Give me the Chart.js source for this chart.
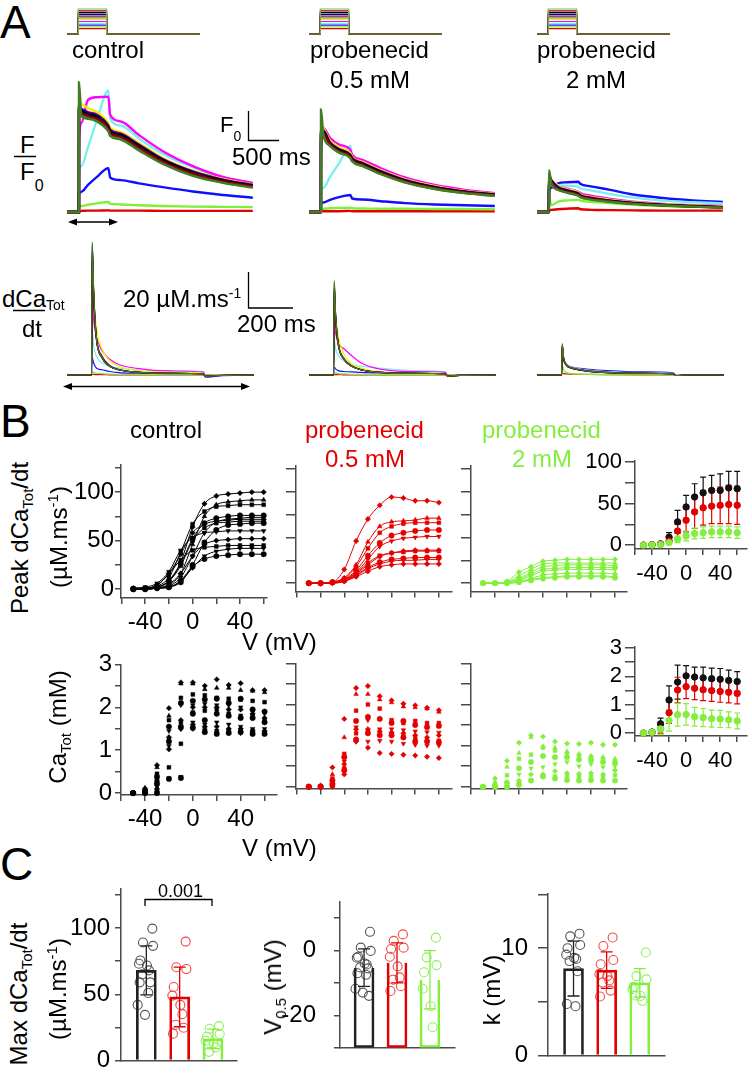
<!DOCTYPE html>
<html>
<head>
<meta charset="utf-8">
<script src="https://cdn.jsdelivr.net/npm/chart.js@4.4.1/dist/chart.umd.min.js"></script>
<style>
  body { margin: 0; background: #fff; }
  #fig { position: relative; width: 752px; height: 1080px; overflow: hidden; font-family: Arial, "Liberation Sans", sans-serif; color: #000; }
  #fig canvas { position: absolute; }
  .t { position: absolute; line-height: 1; white-space: nowrap; }
  .rot { position: absolute; line-height: 1; white-space: nowrap; transform: translate(-50%, -50%) rotate(-90deg); }
  .s { position: relative; }
</style>
</head>
<body>
<div id="fig"></div>
<script>
// ---------- data ----------
// A: voltage steps (mV), one per trace colour, top to bottom
const stepV = [60, 50, 40, 30, 20, 10, 0, -10, -20, -30, -40, -50];
const holdV = -80;

// A: F/F0 traces, sampled at tF (ms)
const tF = [-200, -1, 0, 40, 150, 300, 490, 520, 700, 1000, 1400, 1900, 2400, 2900];
const fCtrl = [
  [1,1,5.8,4.55,4.45,4.35,3.98,3.82,3.68,3.28,2.78,2.34,2.08,1.9],
  [1,1,4.7,4.65,4.55,4.45,4.08,3.92,3.78,3.38,2.86,2.42,2.13,1.95],
  [1,1,4.8,4.72,4.6,4.5,4.12,3.96,3.82,3.42,2.9,2.45,2.16,1.97],
  [1,1,4.85,4.78,4.66,4.55,4.16,4.0,3.86,3.46,2.93,2.48,2.18,1.99],
  [1,1,4.9,4.82,4.7,4.6,4.2,4.05,3.9,3.5,2.96,2.5,2.2,2.0],
  [1,1,4.75,4.6,4.5,4.4,4.02,3.88,3.73,3.33,2.82,2.38,2.1,1.92],
  [1,1,5.1,5.0,4.85,4.7,4.28,4.12,3.96,3.55,3.0,2.53,2.22,2.02],
  [1,1,3.6,4.3,5.15,5.25,5.27,4.6,4.35,3.85,3.25,2.7,2.3,2.07],
  [1,1,2.44,2.7,3.4,4.4,5.5,4.45,4.2,3.72,3.15,2.65,2.27,2.08],
  [1,1,1.63,1.75,2.0,2.3,2.62,2.28,2.18,2.06,1.92,1.76,1.63,1.53],
  [1,1,1.2,1.22,1.27,1.32,1.37,1.3,1.28,1.25,1.22,1.2,1.19,1.18],
  [1,1,1.03,1.04,1.05,1.05,1.06,1.05,1.05,1.05,1.04,1.04,1.04,1.04]
];
const fProb05 = [
  [1,1,4.8,3.85,3.45,3.2,3.0,2.88,2.7,2.4,2.1,1.85,1.7,1.6],
  [1,1,3.9,3.9,3.5,3.25,3.05,2.92,2.74,2.44,2.13,1.88,1.72,1.62],
  [1,1,3.95,3.95,3.52,3.28,3.08,2.95,2.77,2.47,2.15,1.9,1.74,1.63],
  [1,1,4.0,4.0,3.55,3.3,3.1,2.97,2.79,2.49,2.17,1.92,1.75,1.64],
  [1,1,4.05,4.02,3.58,3.33,3.12,3.0,2.81,2.51,2.19,1.93,1.76,1.65],
  [1,1,3.85,3.85,3.45,3.2,3.0,2.88,2.7,2.41,2.1,1.86,1.7,1.6],
  [1,1,4.2,4.1,3.65,3.4,3.18,3.04,2.85,2.55,2.22,1.96,1.78,1.67],
  [1,1,3.0,4.1,3.75,3.5,3.3,3.12,2.92,2.62,2.28,2.0,1.82,1.7],
  [1,1,1.78,1.9,2.3,2.8,3.45,3.0,2.85,2.55,2.22,1.96,1.78,1.67],
  [1,1,1.3,1.35,1.45,1.55,1.63,1.5,1.46,1.4,1.33,1.28,1.25,1.22],
  [1,1,1.1,1.12,1.14,1.15,1.16,1.14,1.13,1.12,1.12,1.11,1.11,1.1],
  [1,1,1.02,1.03,1.03,1.03,1.04,1.03,1.03,1.03,1.03,1.03,1.03,1.03]
];
const fProb2 = [
  [1,1,2.55,2.05,1.82,1.72,1.6,1.55,1.46,1.38,1.3,1.24,1.2,1.16],
  [1,1,2.2,2.1,1.86,1.75,1.63,1.58,1.49,1.4,1.31,1.25,1.21,1.17],
  [1,1,2.25,2.12,1.88,1.77,1.65,1.6,1.5,1.41,1.32,1.26,1.21,1.17],
  [1,1,2.3,2.15,1.9,1.79,1.67,1.61,1.51,1.42,1.33,1.26,1.22,1.18],
  [1,1,2.35,2.18,1.93,1.81,1.69,1.63,1.53,1.43,1.34,1.27,1.22,1.18],
  [1,1,2.15,2.05,1.83,1.72,1.61,1.56,1.47,1.39,1.3,1.24,1.2,1.16],
  [1,1,2.4,2.2,1.96,1.84,1.72,1.66,1.56,1.46,1.36,1.29,1.24,1.2],
  [1,1,2.2,2.1,1.95,1.86,1.75,1.7,1.6,1.49,1.38,1.3,1.25,1.22],
  [1,1,2.2,2.1,2.0,1.97,1.93,1.88,1.8,1.67,1.53,1.42,1.36,1.32],
  [1,1,1.78,1.9,2.06,2.1,2.12,2.05,1.95,1.83,1.65,1.52,1.43,1.37],
  [1,1,1.5,1.25,1.38,1.43,1.45,1.42,1.38,1.33,1.27,1.22,1.2,1.18],
  [1,1,1.05,1.08,1.1,1.12,1.14,1.1,1.08,1.07,1.06,1.05,1.05,1.05]
];

// A: dCaTot/dt traces (uM/ms), sampled at tD (ms)
const tD = [-110, -1, 2, 8, 20, 45, 80, 120, 200, 350, 495, 505, 560, 720];
const dCtrl = [
  [0,0,76,50,22,10,5,3,1.5,1,0.7,-0.8,-0.3,0],
  [0,0,72,47,21,10,5,3,1.5,1,0.7,-0.8,-0.3,0],
  [0,0,74,48,22,10,5,3,1.5,1,0.7,-0.8,-0.3,0],
  [0,0,70,46,21,10,5,3,1.6,1,0.7,-0.8,-0.3,0],
  [0,0,73,48,22,11,5.5,3.2,1.6,1,0.7,-0.8,-0.3,0],
  [0,0,75,49,22,10,5,3,1.5,1,0.7,-0.8,-0.3,0],
  [0,0,66,46,28,15,8,5,2.5,1.5,1,-0.8,-0.3,0],
  [0,0,45,32,22,14,9,6,3.8,2.3,1.6,-0.6,-0.2,0],
  [0,0,25,17,11,7,5,4,3,2.3,2,-0.6,-0.2,0],
  [0,0,10,7,4,3,2,1.3,1,0.8,0.7,-1.2,-0.6,0],
  [0,0,2,1.5,1,0.8,0.5,0.4,0.3,0.2,0.2,-0.2,0,0],
  [0,0,0.4,0.3,0.2,0.2,0.1,0.1,0.1,0.1,0.1,0,0,0]
];
const dProb05 = [
  [0,0,54,35,18,9,5,3,1.5,1,0.7,-0.6,-0.2,0],
  [0,0,50,33,17,9,5,3,1.5,1,0.7,-0.6,-0.2,0],
  [0,0,52,34,18,9,5,3,1.5,1,0.7,-0.6,-0.2,0],
  [0,0,48,32,17,9,5,3,1.5,1,0.7,-0.6,-0.2,0],
  [0,0,51,34,18,9.5,5.2,3.1,1.6,1,0.7,-0.6,-0.2,0],
  [0,0,53,35,18,9,5,3,1.5,1,0.7,-0.6,-0.2,0],
  [0,0,45,33,22,12,6,4,2,1.2,0.8,-0.6,-0.2,0],
  [0,0,30,24,18,15,11,7,3.5,2,1.5,-0.5,-0.2,0],
  [0,0,20,15,11,8,6,5,4,2.5,1.8,-0.8,-0.3,0],
  [0,0,4.5,3.5,2.5,2,1.8,1.5,1.2,1,0.8,-0.5,-0.2,0],
  [0,0,1.5,1.2,0.8,0.6,0.4,0.3,0.2,0.2,0.2,-0.1,0,0],
  [0,0,0.3,0.2,0.2,0.1,0.1,0.1,0.1,0.1,0.1,0,0,0]
];
const dProb2 = [
  [0,0,18,10,6,4,3,2.2,1.5,1,0.7,-0.3,0,0],
  [0,0,17,9.5,5.8,3.9,2.9,2.1,1.4,1,0.7,-0.3,0,0],
  [0,0,17,9.5,5.8,3.9,2.9,2.1,1.4,1,0.7,-0.3,0,0],
  [0,0,16,9,5.5,3.8,2.8,2,1.4,1,0.7,-0.3,0,0],
  [0,0,17,10,6,4,3,2.2,1.5,1,0.7,-0.3,0,0],
  [0,0,17.5,10,6,4,3,2.2,1.5,1,0.7,-0.3,0,0],
  [0,0,15,9,6,4,3,2.2,1.5,1,0.7,-0.3,0,0],
  [0,0,14,9,6,4.2,3.2,2.5,1.7,1.1,0.8,-0.3,0,0],
  [0,0,13,8.5,6,4.5,3.5,2.8,2,1.4,1,-0.3,0,0],
  [0,0,14,9,6,4.5,3.8,3.2,2.5,1.8,1.2,-0.3,0,0],
  [0,0,6,3,1.5,0.8,0.5,0.3,0.2,0.1,0.1,0,0,0],
  [0,0,1,0.8,0.6,0.5,0.4,0.3,0.2,0.1,0.1,0,0,0]
];

// B: test voltages (mV)
const V = [-50, -40, -30, -20, -10, 0, 10, 20, 30, 40, 50, 60];

// B: peak dCaTot/dt per fibre (uM/ms)
const peakCtrl = [
  [0,1,2,9,28,64,88,96,98,99,100,100],
  [0,0,1,4,16,46,75,87,90,91,92,92],
  [0,1,3,12,38,67,80,85,86,87,87,87],
  [0,0,2,8,26,52,68,73,75,76,76,76],
  [0,0,1,3,12,34,58,69,72,73,74,74],
  [1,1,4,16,36,58,67,70,71,72,72,72],
  [0,1,2,8,24,50,63,68,69,70,70,70],
  [0,0,1,2,9,25,48,61,66,67,68,68],
  [1,2,6,18,40,53,58,59,60,60,60,60],
  [0,0,1,5,16,34,46,50,51,52,52,52],
  [0,1,4,16,30,40,43,44,45,45,45,45],
  [0,0,1,2,8,22,34,39,41,42,42,42],
  [0,0,1,2,7,23,31,34,35,36,36,36]
];
const peakP05 = [
  [0,0,1,15,46,70,85,94,93,90,90,88],
  [0,0,1,6,20,45,62,67,68,69,71,71],
  [0,0,1,5,18,38,55,62,65,66,66,66],
  [0,0,1,4,14,30,44,52,55,57,58,58],
  [0,0,1,4,12,26,40,46,49,50,51,51],
  [0,0,1,3,10,20,29,33,35,36,36,36],
  [0,0,1,3,11,22,30,33,34,35,35,35],
  [0,0,1,3,9,17,23,26,27,28,28,28],
  [0,0,0,2,8,16,21,24,25,25,26,26],
  [0,0,0,2,7,13,18,20,21,21,21,21]
];
const peakP2 = [
  [0,0,2,12,18,24,25,26,26,26,26,26],
  [0,0,1,8,15,21,22,22,22,22,22,22],
  [0,0,1,5,12,18,19,20,20,20,20,19],
  [0,0,1,4,10,15,16,17,17,17,17,17],
  [0,0,0,3,8,13,14,15,15,15,15,15],
  [0,0,0,2,5,9,10,11,11,11,11,10],
  [0,0,0,1,4,6,7,8,8,8,8,7],
  [0,0,0,1,3,5,6,7,7,7,7,6]
];

// B: CaTot per fibre (mM)
const caCtrl = [
  [0,0.1,0.65,1.98,2.58,2.58,2.5,2.65,2.52,2.56,2.4,2.4],
  [0,0.12,0.6,1.8,2.55,2.55,2.42,2.45,2.45,2.4,2.38,2.35],
  [0,0.08,0.45,1.7,2.22,2.3,2.28,2.22,2.2,2.18,2.15,2.12],
  [0,0.05,0.38,1.55,2.1,2.15,2.18,2.2,2.1,2.2,1.95,1.9],
  [0,0.03,0.3,1.45,2.05,2.05,2.08,2.05,2.05,2.0,1.9,1.85],
  [0,0.05,0.28,1.3,1.7,2.0,2.0,2.0,1.95,1.95,1.85,1.75],
  [0,0.02,0.25,1.25,1.65,1.88,1.92,1.95,1.85,1.8,1.8,1.7],
  [0,0.02,0.22,1.2,1.55,1.85,1.7,1.85,1.8,1.75,1.75,1.65],
  [0,0,0.15,1.1,1.5,1.65,1.6,1.65,1.6,1.55,1.5,1.5],
  [0,0,0.1,1.02,1.5,1.6,1.55,1.55,1.5,1.5,1.45,1.45],
  [0,0,0.05,0.6,1.15,1.55,1.5,1.45,1.45,1.45,1.45,1.42],
  [0,0,0.02,0.35,0.38,1.5,1.45,1.4,1.42,1.4,1.4,1.4],
  [0,0,0,0.33,0.35,1.52,1.42,1.38,1.4,1.42,1.38,1.38]
];
const caP05 = [
  [0,0.03,0.47,1.65,2.4,2.45,2.2,2.1,2.02,1.98,1.92,1.86],
  [0,0.02,0.3,1.2,2.25,2.25,2.12,2.05,1.95,1.93,1.9,1.82],
  [0,0,0.2,0.8,1.85,2.0,1.9,1.62,1.55,1.6,1.55,1.55],
  [0,0,0.15,0.72,1.6,1.7,1.65,1.55,1.6,1.5,1.45,1.48],
  [0,0,0.1,0.62,1.45,1.62,1.4,1.4,1.38,1.35,1.33,1.32],
  [0,0,0.08,0.55,1.4,1.4,1.35,1.32,1.3,1.25,1.2,1.25],
  [0,0,0.05,0.45,1.3,1.35,1.3,1.28,1.22,1.18,1.12,1.12],
  [0,0,0.05,0.4,1.15,1.3,1.25,1.25,1.2,1.1,1.1,1.08],
  [0,0,0.02,0.35,1.1,1.1,1.12,1.1,1.05,1.02,1.0,1.0],
  [0,0,0,0.3,1.1,0.95,0.82,0.8,0.78,0.76,0.73,0.7]
];
const caP2 = [
  [0,0.2,0.63,1.07,1.25,1.22,1.1,1.05,1.04,1.07,1.02,1.02],
  [0,0.12,0.48,0.82,1.2,0.98,0.95,0.86,0.8,0.75,0.72,0.68],
  [0,0.05,0.28,0.68,0.78,0.95,0.88,0.8,0.76,0.72,0.68,0.62],
  [0,0.02,0.1,0.45,0.6,0.75,0.72,0.72,0.66,0.65,0.6,0.58],
  [0,0,0.05,0.3,0.45,0.48,0.55,0.6,0.5,0.55,0.48,0.5],
  [0,0,0.02,0.15,0.3,0.3,0.38,0.33,0.31,0.33,0.3,0.4],
  [0,0,0,0.12,0.16,0.27,0.25,0.25,0.24,0.24,0.24,0.28],
  [0,0,0,0.05,0.15,0.25,0.2,0.16,0.15,0.16,0.15,0.15]
];

// B insets: mean and SD
const meanPeakCtrl = [0, 0.5, 1.5, 9.5, 28, 46, 58, 63, 66, 66, 69, 68];
const sdPeakCtrl   = [0.3, 0.5, 1.5, 5.5, 14, 14, 16, 19, 18, 20, 20, 21];
const meanPeakP05  = [0, 0.3, 1, 5, 17, 30, 40, 45, 47, 48, 49, 48];
const sdPeakP05    = [0.3, 0.4, 1, 4, 8, 14, 20, 21, 21, 22, 23, 23];
const meanPeakP2   = [0, 0.2, 0.6, 3, 7, 11, 14, 15, 16, 16, 16, 15];
const sdPeakP2     = [0.2, 0.3, 0.6, 2, 4, 6, 6.5, 7, 7, 7, 7, 7];
const meanCaCtrl = [0, 0.04, 0.33, 1.17, 1.8, 2.02, 1.98, 1.95, 1.92, 1.9, 1.86, 1.82];
const sdCaCtrl   = [0.02, 0.05, 0.2, 0.5, 0.6, 0.36, 0.35, 0.38, 0.37, 0.38, 0.36, 0.35];
const meanCaP05  = [0, 0.02, 0.15, 0.72, 1.52, 1.64, 1.58, 1.53, 1.5, 1.47, 1.44, 1.4];
const sdCaP05    = [0.02, 0.03, 0.15, 0.38, 0.45, 0.42, 0.4, 0.38, 0.38, 0.38, 0.37, 0.37];
const meanCaP2   = [0, 0.03, 0.15, 0.45, 0.65, 0.66, 0.58, 0.55, 0.51, 0.5, 0.47, 0.43];
const sdCaP2     = [0.02, 0.06, 0.2, 0.38, 0.4, 0.38, 0.33, 0.32, 0.3, 0.3, 0.28, 0.28];

// C: Boltzmann parameters per fibre, bars = mean, err = SD
const groups = ['control', 'probenecid 0.5 mM', 'probenecid 2 mM'];
const maxCtrl = [99.5, 89, 86.5, 75.5, 73, 71.7, 68, 65, 59, 59, 51, 42, 34.5];
const maxP05  = [89.7, 70.4, 69, 55.5, 49, 42, 35, 27, 24.8, 20.3];
const maxP2   = [26, 24, 20, 18, 15, 13, 10, 6.6];
const maxMean = [68, 48, 16.4];
const maxSd   = [18.5, 22.5, 7.3];
const vhCtrl = [5.8, 0.9, -0.1, -1.9, -2.2, -4, -4.3, -5.2, -5.5, -7, -7.5, -11.8, -13, -14];
const vhP05  = [5.0, 3.0, 0.9, 0.5, -1.9, -4.9, -8.3, -9, -11, -12.5];
const vhP2   = [4.0, -2.1, -4.5, -6.7, -11.8, -17.2, -23.7];
const vhMean = [-5.3, -3.8, -9];
const vhSd   = [5.8, 6.2, 9];
const kCtrl = [11.35, 11.1, 10.3, 10.0, 9.4, 9.1, 9.0, 8.8, 7.85, 4.8, 4.6];
const kP05  = [11.0, 10.2, 8.9, 8.5, 7.6, 7.4, 7.0, 6.8, 6.05, 5.5];
const kP2   = [9.6, 7.4, 7.1, 6.4, 6.2, 5.55, 5.1, 5.6];
const kMean = [8.1, 7.96, 6.77];
const kSd   = [2.55, 1.7, 1.33];

// ---------- drawing ----------
const FONT = 'Arial, "Liberation Sans", sans-serif';
const AX = '#4a4a4a';
const RED = '#e30000', GRN = '#84ee3e';
const traceColors = ['#3f7d28', '#8b0000', '#000000', '#00007a', '#800080', '#6b8e23',
                     '#f0f000', '#ff00ff', '#78f0f0', '#1010ff', '#7ff03a', '#e30000'];
const protoColors = ['#80b850'].concat(traceColors.slice(1));
Chart.defaults.font.family = FONT;
Chart.defaults.color = '#000';

const fig = document.getElementById('fig');

function mk(area, pad, cfg, axes) {
  const c = document.createElement('canvas');
  const w = area.r - area.l + pad.l + pad.r;
  const h = area.b - area.t + pad.t + pad.b;
  c.width = w; c.height = h;
  c.style.left = (area.l - pad.l) + 'px';
  c.style.top = (area.t - pad.t) + 'px';
  c.style.width = w + 'px';
  c.style.height = h + 'px';
  fig.appendChild(c);
  const o = cfg.options || (cfg.options = {});
  o.responsive = false;
  o.animation = false;
  o.events = [];
  o.layout = { padding: axes ? { left: 0, top: pad.t, right: pad.r, bottom: 0 }
                             : { left: pad.l, top: pad.t, right: pad.r, bottom: pad.b } };
  o.plugins = Object.assign({ legend: { display: false }, tooltip: { enabled: false } }, o.plugins);
  return new Chart(c, cfg);
}

const hid = (min, max) => ({ type: 'linear', display: false, min, max });

function yAx(min, max, ticks, labels, w, o = {}) {
  return {
    type: 'linear', min, max,
    afterBuildTicks: a => { a.ticks = ticks.map(v => ({ value: v })); },
    afterFit: s => { s.width = w; },
    border: { display: true, color: AX, width: 1.5 },
    grid: { drawOnChartArea: false, tickLength: o.tl || 6, color: AX, lineWidth: 1.5 },
    ticks: { autoSkip: false, padding: o.pad ?? 2, color: '#000', font: { size: o.fs || 24 },
             callback: v => labels.includes(v) ? String(v) : '' }
  };
}
function xAx(min, max, ticks, labels, h, o = {}) {
  return {
    type: 'linear', min, max, offset: false,
    afterBuildTicks: a => { a.ticks = ticks.map(v => ({ value: v })); },
    afterFit: s => { s.height = h; },
    border: { display: true, color: AX, width: 1.5 },
    grid: { display: o.noTicks ? false : true, drawOnChartArea: false, tickLength: o.tl || 6, color: AX, lineWidth: 1.5 },
    ticks: { display: labels.length > 0, autoSkip: false, maxRotation: 0, padding: o.pad ?? 3, color: '#000',
             font: { size: o.fs || 24 }, callback: v => labels.includes(v) ? String(v) : '' }
  };
}

function drawErr(ch) {
  const ctx = ch.ctx, xs = ch.scales.x, ys = ch.scales.y;
  for (let i = ch.data.datasets.length - 1; i >= 0; i--) {
    const ds = ch.data.datasets[i];
    if (!ds.sd) continue;
    ctx.save();
    ctx.strokeStyle = ds.errColor;
    ctx.lineWidth = ds.errWidth || 1.2;
    ds.data.forEach((p, j) => {
      const m = p.y, s = ds.sd[j], c = ds.cap || 3;
      const px = xs.getPixelForValue(p.x);
      const yt = ys.getPixelForValue(m + s), yb = ys.getPixelForValue(m - s);
      ctx.beginPath();
      ctx.moveTo(px, yt); ctx.lineTo(px, yb);
      ctx.moveTo(px - c, yt); ctx.lineTo(px + c, yt);
      ctx.moveTo(px - c, yb); ctx.lineTo(px + c, yb);
      ctx.stroke();
    });
    ctx.restore();
  }
}
const errBehind = { id: 'errBehind', beforeDatasetsDraw: drawErr };

// ----- A: protocols -----
[67, 309, 537].forEach(l => {
  mk({ l, t: 6, r: l + 133, b: 37 }, { l: 0, t: 0, r: 0, b: 0 }, {
    type: 'line',
    data: { datasets: stepV.map((v, i) => ({
      data: [[-200, holdV], [0, holdV], [0, v], [500, v], [500, holdV], [2150, holdV]].map(p => ({ x: p[0], y: p[1] })),
      borderColor: protoColors[i], borderWidth: 1.2, pointRadius: 0, clip: false
    })) },
    options: { scales: { x: hid(-200, 2150), y: hid(-96.8, 76.8) } }
  });
});

// ----- A: F/F0 and dCa/dt traces -----
function traces(l, t, b, times, sets, xr, yr, bw) {
  mk({ l, t, r: l + 187, b }, { l: 0, t: 0, r: 0, b: 0 }, {
    type: 'line',
    data: { datasets: sets.map((vals, i) => ({
      data: times.map((x, j) => ({ x, y: vals[j] })),
      borderColor: traceColors[i], borderWidth: bw, pointRadius: 0,
      cubicInterpolationMode: 'monotone', clip: false
    })) },
    options: { scales: { x: hid(xr[0], xr[1]), y: hid(yr[0], yr[1]) } }
  });
}
[[67, fCtrl], [309, fProb05], [537, fProb2]].forEach(([l, s]) => traces(l, 78, 216, tF, s, [-200, 2920], [0.852, 5.96], 2.4));
[[67, dCtrl], [309, dProb05], [537, dProb2]].forEach(([l, s]) => traces(l, 238, 380, tD, s, [-110, 720], [-2.86, 78.3], 1.2));

// ----- B: per-fibre I-V plots -----
const shapes = ['rectRot', 'triangle', 'rect', 'circle', 'triangle', 'rectRot', 'rect', 'circle', 'triangle', 'rectRot', 'rect', 'triangle', 'circle'];
const rots =   [0, 0, 0, 0, 180, 0, 0, 0, 180, 0, 0, 180, 0];
const vTicks = [-60, -40, -20, 0, 20, 40, 60];

function ivChart(area, cells, color, withLine, yCfg, xMin, xMax, pad, labelled) {
  mk(area, pad, {
    type: 'line',
    data: { datasets: cells.map((vals, i) => ({
      data: V.map((x, j) => ({ x, y: vals[j] })),
      showLine: withLine, borderColor: color, borderWidth: 1, cubicInterpolationMode: 'monotone',
      pointStyle: shapes[i % shapes.length], rotation: rots[i % rots.length],
      pointRadius: 2.7, pointBackgroundColor: color, pointBorderColor: color, pointBorderWidth: 0.5, clip: false
    })) },
    options: { scales: {
      x: xAx(xMin, xMax, vTicks, labelled ? [-40, 0, 40] : [], pad.b, { pad: 4 }),
      y: yCfg
    } }
  }, true);
}
const peakTicks = [0, 25, 50, 75, 100, 125];
const caTicks = [0, 0.5, 1, 1.5, 2, 2.5, 3];
ivChart({ l: 121, t: 463, r: 267, b: 598 }, peakCtrl, '#000', true,
  yAx(-9.2, 128.6, peakTicks, [0, 50, 100], 60, { tl: 6, pad: 1 }), -60.4, 62.8, { l: 60, t: 14, r: 6, b: 40 }, true);
ivChart({ l: 296, t: 463, r: 452, b: 598 }, peakP05, RED, true,
  yAx(-9.2, 128.6, peakTicks, [], 12, { tl: 10 }), -60.8, 71.1, { l: 12, t: 14, r: 6, b: 10 }, false);
ivChart({ l: 471, t: 463, r: 627, b: 598 }, peakP2, GRN, true,
  yAx(-9.2, 128.6, peakTicks, [], 12, { tl: 10 }), -60, 70, { l: 12, t: 14, r: 6, b: 10 }, false);
ivChart({ l: 121, t: 661, r: 277, b: 795 }, caCtrl, '#000', false,
  yAx(-0.045, 3, caTicks, [0, 1, 2, 3], 60, { tl: 6, pad: 3 }), -60.1, 70.4, { l: 60, t: 14, r: 6, b: 40 }, true);
ivChart({ l: 296, t: 661, r: 452, b: 795 }, caP05, RED, false,
  yAx(-0.045, 3, caTicks, [], 12, { tl: 10 }), -60.8, 71.1, { l: 12, t: 14, r: 6, b: 10 }, false);
ivChart({ l: 471, t: 661, r: 627, b: 795 }, caP2, GRN, false,
  yAx(-0.045, 3, caTicks, [], 12, { tl: 10 }), -60, 70, { l: 12, t: 14, r: 6, b: 10 }, false);

// ----- B: mean +/- SD insets -----
function inset(area, means, sds, yCfg) {
  const cols = [GRN, RED, '#111'];
  mk(area, { l: 56, t: 14, r: 0, b: 40 }, {
    type: 'scatter',
    data: { datasets: [2, 1, 0].map((g, k) => ({
      data: V.map((x, j) => ({ x, y: means[g][j] })),
      sd: sds[g], errColor: cols[k], cap: 3, errWidth: 1.2,
      pointRadius: 3.2, pointBackgroundColor: cols[k], pointBorderColor: cols[k], clip: false
    })) },
    options: { scales: {
      x: xAx(-60, 71.5, vTicks, [-40, 0, 40], 40, { fs: 22, tl: 6, pad: 6 }),
      y: yCfg
    } },
    plugins: [errBehind]
  }, true);
}
inset({ l: 635, t: 459, r: 752, b: 549 }, [meanPeakCtrl, meanPeakP05, meanPeakP2], [sdPeakCtrl, sdPeakP05, sdPeakP2],
  yAx(-4.7, 101.2, [0, 25, 50, 75, 100], [0, 50, 100], 56, { fs: 22, tl: 10, pad: 3 }));
inset({ l: 635, t: 645, r: 752, b: 736 }, [meanCaCtrl, meanCaP05, meanCaP2], [sdCaCtrl, sdCaP05, sdCaP2],
  yAx(-0.1, 3.03, caTicks, [0, 1, 2, 3], 56, { fs: 22, tl: 10, pad: 3 }));

// ----- C: bar charts with individual fibres -----
const jit = [0.18, -0.1, 0.2, -0.18, -0.22, 0.02, 0.08, -0.12, 0.12, -0.2, 0.06, -0.26, -0.04, 0.15];
function barChart(area, pts, means, sds, floor, yCfg, xr, yW) {
  const edge = ['#222', RED, GRN], dot = ['#555', '#f04a4a', '#8ef05c'];
  const bars = {
    type: 'bar',
    data: means.map((m, g) => ({ x: g + 1, y: floor === null ? m : [floor, m] })),
    backgroundColor: 'rgba(0,0,0,0)', borderColor: edge, borderWidth: 2, borderSkipped: 'start',
    barThickness: 20
  };
  const dots = pts.map((vals, g) => ({
    type: 'scatter',
    data: vals.map((y, i) => ({ x: g + 1 + jit[i % jit.length], y })),
    pointRadius: 4.5, pointBackgroundColor: 'rgba(0,0,0,0)', pointBorderColor: dot[g], pointBorderWidth: 1.1, clip: false
  }));
  mk(area, { l: yW, t: 14, r: 6, b: 7 }, {
    type: 'bar',
    data: { datasets: [bars].concat(dots) },
    options: { scales: {
      x: xAx(xr[0], xr[1], [1, 2, 3], [], 7, { noTicks: true }),
      y: yCfg
    } },
    plugins: [{ id: 'barErr', afterDatasetsDraw(ch) {
      // error bars coloured like their bar
      const ctx = ch.ctx, xs = ch.scales.x, ys = ch.scales.y;
      means.forEach((m, g) => {
        const px = xs.getPixelForValue(g + 1), yt = ys.getPixelForValue(m + sds[g]), yb = ys.getPixelForValue(m - sds[g]);
        ctx.save(); ctx.strokeStyle = edge[g]; ctx.lineWidth = 1.3; ctx.beginPath();
        ctx.moveTo(px, yt); ctx.lineTo(px, yb);
        ctx.moveTo(px - 6, yt); ctx.lineTo(px + 6, yt);
        ctx.moveTo(px - 6, yb); ctx.lineTo(px + 6, yb);
        ctx.stroke(); ctx.restore();
      });
    } }]
  }, true);
}
barChart({ l: 121, t: 883, r: 237, b: 1073 }, [maxCtrl, maxP05, maxP2], maxMean, maxSd, null,
  yAx(0, 129.8, [0, 25, 50, 75, 100, 125], [0, 50, 100], 60, { tl: 6, pad: 5 }), [0.24, 3.72], 60);
barChart({ l: 340, t: 883, r: 455, b: 1073 }, [vhCtrl, vhP05, vhP2], vhMean, vhSd, -30,
  yAx(-30, 15.2, [-30, -20, -10, 0, 10], [-20, 0], 62, { tl: 6, pad: 18 }), [0.27, 3.76], 62);
barChart({ l: 548, t: 883, r: 665, b: 1073 }, [kCtrl, kP05, kP2], kMean, kSd, null,
  yAx(0, 15.1, [0, 5, 10, 15], [0, 10], 50, { tl: 10, pad: 10 }), [0.23, 3.76], 50);

// ---------- text ----------
function T(x, base, html, size, color) {
  const d = document.createElement('div');
  d.className = 't';
  d.style.left = x + 'px';
  d.style.top = (base - 0.8465 * size) + 'px';
  d.style.fontSize = size + 'px';
  d.style.color = color || '#000';
  d.innerHTML = html;
  fig.appendChild(d);
}
function R(cx, cy, html, size) {
  const d = document.createElement('div');
  d.className = 'rot';
  d.style.left = cx + 'px';
  d.style.top = cy + 'px';
  d.style.fontSize = size + 'px';
  d.innerHTML = html;
  fig.appendChild(d);
}
const sm = (s, size, dy) => `<span class="s" style="font-size:${size}px;top:${dy}px">${s}</span>`;

T(0, 38, 'A', 46);
T(72, 58, 'control', 24);
T(310, 58, 'probenecid', 24);
T(330, 88.5, '0.5 mM', 24);
T(537, 58, 'probenecid', 24);
T(566, 88.5, '2 mM', 24);
T(20, 153, 'F', 24);
T(20, 180, 'F' + sm('0', 16, 11), 24);
T(220, 133, 'F' + sm('0', 14, 9), 22);
T(232, 165, '500 ms', 24);
T(2, 307, 'dCa' + sm('Tot', 14, 3), 24);
T(22, 337, 'dt', 24);
T(123, 307, '20 µM.ms' + sm('-1', 14, -9), 24);
T(237, 332, '200 ms', 24);

T(0, 437, 'B', 46);
T(130, 438, 'control', 24);
T(305, 438, 'probenecid', 24, RED);
T(325, 467, '0.5 mM', 24, RED);
T(482, 438, 'probenecid', 24, GRN);
T(512, 467, '2 mM', 24, GRN);
R(20, 538, 'Peak dCa' + sm('Tot', 15, 5) + '/dt', 24);
R(59, 537, '(µM.ms' + sm('-1', 15, -9) + ')', 24);
T(242, 650, 'V (mV)', 24);
R(58, 727, 'Ca' + sm('Tot', 15, 5) + ' (mM)', 24);
T(242, 856, 'V (mV)', 24);

T(0, 880, 'C', 46);
R(19, 994, 'Max dCa' + sm('Tot', 15, 5) + '/dt', 24);
R(58, 989, '(µM.ms' + sm('-1', 15, -9) + ')', 24);
T(158, 897, '0.001', 18);
R(273, 987, 'V' + sm('0.5', 15, 5) + ' (mV)', 24);
R(492, 990, 'k (mV)', 24);

// ---------- scale bars, arrows, bracket ----------
fig.insertAdjacentHTML('beforeend', `
<svg width="752" height="1080" style="position:absolute;left:0;top:0" fill="none" stroke="#000">
  <path d="M14 156.5H36M13 310.5H45" stroke-width="1.5"/>
  <path d="M248.5 111V140.5H279M248.5 272V308H293" stroke-width="1.3"/>
  <path d="M72 222H114M67 386.5H246" stroke-width="1.5"/>
  <polygon points="68,222 77,218.5 77,225.5" fill="#000" stroke="none"/>
  <polygon points="118,222 109,218.5 109,225.5" fill="#000" stroke="none"/>
  <polygon points="63,386.5 72,383 72,390" fill="#000" stroke="none"/>
  <polygon points="250,386.5 241,383 241,390" fill="#000" stroke="none"/>
  <path d="M145 906V899.5H212V906" stroke-width="1.3"/>
</svg>`);
</script>
</body>
</html>
